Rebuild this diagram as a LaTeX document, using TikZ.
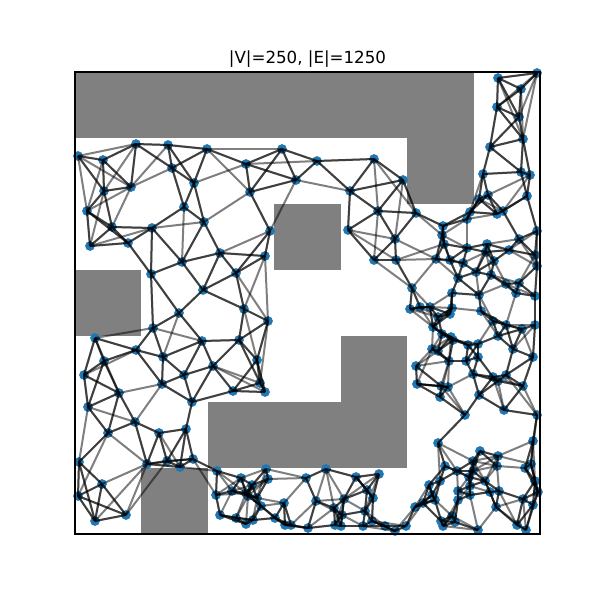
\documentclass[tikz,border=0pt]{standalone}
\usepackage{fontspec}
\setmainfont{DejaVu Sans}

\tikzset{every picture/.style={line width=0.75pt}}
\tikzset{
  vert/.style={circle, fill, color={rgb, 255:red, 31; green, 119; blue, 180 }, inner sep=0pt, minimum size=7.3pt},
  edge/.style={color={rgb, 255:red, 0; green, 0; blue, 0 }, draw opacity=0.5, line width=1.5},
  obstacle/.style={color={rgb, 255:red, 128; green, 128; blue, 128 }}
}

% sample points (pixel coordinates)
\def\vertlist{78/156, 103/160, 136/144, 168/145, 207/149, 172/168, 194/183, 131/187, 104/191,
  246/164, 282/149, 296/180, 317/161, 374/159, 250/192, 350/191,
  498/78, 537/73, 521/89, 497/107, 519/117, 523/139, 490/147, 403/180, 483/174, 521/172, 530/175,
  87/211, 112/227, 90/246, 128/243, 152/228, 184/207, 204/222, 220/253, 182/262, 151/274, 203/290,
  270/231, 265/256, 236/273, 378/211, 348/230, 374/260,
  416/213, 395/239, 396/260, 443/226, 442/235, 444/244, 436/259, 450/260, 467/219, 470/212,
  479/199, 488/195, 497/214, 503/211, 527/196, 537/231, 519/239, 509/250, 487/244, 486/252,
  467/248, 494/261, 535/255, 537/266, 463/263, 476/272, 491/275, 458/278, 506/284, 519/283,
  412/288, 452/293, 479/295, 516/293, 535/296,
  179/313, 153/328, 95/338, 136/350, 163/357, 104/361, 202/341, 84/375, 184/375, 213/366,
  162/384, 119/393, 233/391, 88/407, 192/402,
  244/309, 268/321, 239/340, 257/360, 260/383, 265/392,
  410/309, 420/307, 430/307, 438/317, 450/314, 452/308, 433/327, 442/334, 451/337, 453/340,
  432/349, 438/351, 449/361, 416/366, 417/384, 441/386, 448/387, 440/397, 465/415, 481/311,
  493/321, 506/325, 522/329, 535/325, 498/336, 468/345, 478/344, 478/357, 466/361, 513/349,
  533/357, 473/374, 493/377, 498/381, 506/375, 523/386, 479/395, 504/410, 537/415,
  135/422, 108/433, 159/433, 186/429, 79/462, 147/464, 167/461, 180/467, 193/459, 102/484,
  78/496, 217/471, 216/495, 232/491, 95/521, 126/515, 220/515,
  266/469, 241/478, 268/479, 246/493, 252/485, 248/496, 257/498, 261/506, 236/518, 246/524,
  253/520, 275/518, 284/503, 306/478, 326/469, 316/501, 356/477, 379/474, 367/490, 373/498,
  344/499, 334/508, 342/515, 365/511, 285/525, 291/525, 308/528, 335/525, 341/526, 363/526,
  372/521, 385/526,
  438/443, 480/451, 533/441, 498/456, 497/466, 445/466, 457/471, 473/461, 473/471, 525/468,
  531/464, 485/481, 469/477, 535/481, 429/485, 440/481, 432/495, 458/491, 470/486, 470/495,
  490/492, 499/491, 538/492, 435/500, 458/500, 423/503, 415/507, 496/507, 523/499, 533/505,
  395/531, 406/526, 441/521, 443/526, 455/522, 452/516, 478/530, 517/525, 526/530}

\foreach [count=\i] \px/\py in \vertlist {%
  \expandafter\xdef\csname vx\i\endcsname{\px}%
  \expandafter\xdef\csname vy\i\endcsname{\py}%
  \xdef\nverts{\i}}

% five nearest neighbours of every point
\newcount\ki \newcount\kj \newcount\kd \newcount\kt
\newcount\kda \newcount\kdb \newcount\kdc \newcount\kdd \newcount\kde
\newcount\kja \newcount\kjb \newcount\kjc \newcount\kjd \newcount\kje
\newcommand\kswap[4]{\kt=#1\relax #1=#2\relax #2=\kt\relax \kt=#3\relax #3=#4\relax #4=\kt\relax}
\newcommand\kdx{\numexpr\csname vx\the\ki\endcsname-\csname vx\the\kj\endcsname\relax}
\newcommand\kdy{\numexpr\csname vy\the\ki\endcsname-\csname vy\the\kj\endcsname\relax}
\newcommand\kput{%
  \ifnum\kd<\kde \kde=\kd\relax \kje=\kj\relax
    \ifnum\kde<\kdd \kswap\kdd\kde\kjd\kje
      \ifnum\kdd<\kdc \kswap\kdc\kdd\kjc\kjd
        \ifnum\kdc<\kdb \kswap\kdb\kdc\kjb\kjc
          \ifnum\kdb<\kda \kswap\kda\kdb\kja\kjb \fi
        \fi
      \fi
    \fi
  \fi}
\newcommand\kinner{%
  \ifnum\kj>\nverts\relax\else
    \ifnum\kj=\ki\else
      \kd=\numexpr\kdx*\kdx+\kdy*\kdy\relax
      \kput
    \fi
    \advance\kj by 1\relax
    \expandafter\kinner
  \fi}
\newcommand\kouter{%
  \ifnum\ki>\nverts\relax\else
    \kda=999999\relax \kdb=999999\relax \kdc=999999\relax \kdd=999999\relax \kde=999999\relax
    \kja=1\relax \kjb=1\relax \kjc=1\relax \kjd=1\relax \kje=1\relax
    \kj=1\relax \kinner
    \expandafter\xdef\csname nb\the\ki\endcsname{\the\kja,\the\kjb,\the\kjc,\the\kjd,\the\kje}%
    \advance\ki by 1\relax
    \expandafter\kouter
  \fi}
\ki=1\relax \kouter

\begin{document}
\begin{tikzpicture}[x=0.75pt,y=0.75pt,yscale=-1,xscale=1]
\useasboundingbox (0,0) rectangle (600,600);

% obstacles
\fill [obstacle] (75,72) rectangle (473.6,138);
\fill [obstacle] (407.1,138) rectangle (473.6,204);
\fill [obstacle] (274.3,204) rectangle (340.7,270);
\fill [obstacle] (75,270) rectangle (141.4,336);
\fill [obstacle] (340.7,336) rectangle (407.1,402);
\fill [obstacle] (207.9,402) rectangle (407.1,468);
\fill [obstacle] (141.4,468) rectangle (207.9,534);

% vertices
\foreach [count=\i] \px/\py in \vertlist {
  \node [vert] (v\i) at (\px,\py) {};
}

% edges
\foreach \i in {1,...,\nverts} {
  \edef\nblist{\csname nb\i\endcsname}
  \foreach \j in \nblist {
    \draw [edge] (v\i.center) -- (v\j.center);
  }
}

\draw [line width=0.8] (75,72) rectangle (540,534);

\draw (307.5,63.5) node [anchor=base][inner sep=0pt] {\fontsize{12.5}{15}\selectfont |V|=250, |E|=1250};
\end{tikzpicture}
\end{document}
